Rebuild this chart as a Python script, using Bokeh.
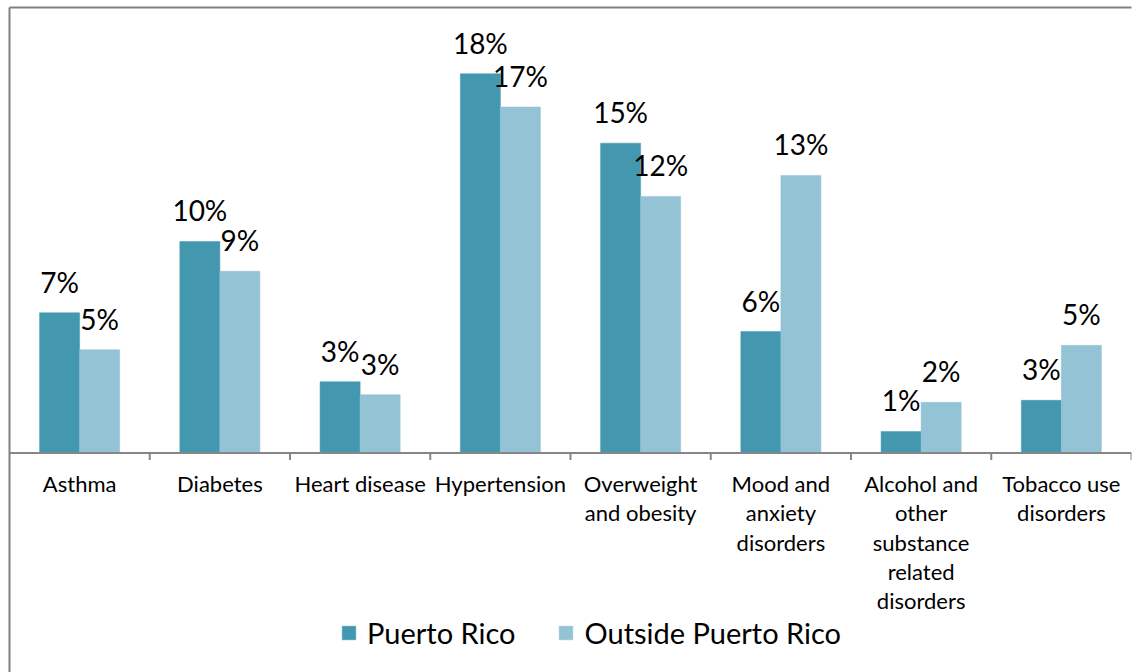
from bokeh.plotting import figure
from bokeh.models import (ColumnDataSource, FactorRange, Range1d, Span, Legend, LegendItem,
                          LinearAxis, FixedTicker, CategoricalAxis)
from bokeh.transform import dodge
from bokeh.core.properties import value
from bokeh.embed import file_html
from bokeh.resources import INLINE

categories = ["Asthma", "Diabetes", "Heart disease", "Hypertension",
              "Overweight and obesity", "Mood and anxiety disorders",
              "Alcohol and other substance related disorders", "Tobacco use disorders"]
category_labels = ["Asthma", "Diabetes", "Heart disease", "Hypertension",
                   "Overweight\nand obesity", "Mood and\nanxiety\ndisorders",
                   "Alcohol and\nother\nsubstance\nrelated\ndisorders", "Tobacco use\ndisorders"]
series_names = ["Puerto Rico", "Outside Puerto Rico"]
puerto_rico = [6.79, 10.24, 3.45, 18.36, 15.00, 5.88, 1.04, 2.55]
outside_pr = [5.00, 8.80, 2.82, 16.75, 12.42, 13.44, 2.45, 5.21]

C_PR = "#4398B0"
C_OUT = "#93C3D4"
GRAY = "#868686"
FONT = "Lato"

src = ColumnDataSource(dict(
    cat=categories,
    lab=category_labels,
    pr=puerto_rico,
    out=outside_pr,
    pr_txt=[f"{v:.0f}%" for v in puerto_rico],
    out_txt=[f"{v:.0f}%" for v in outside_pr],
    zero=[0] * len(categories),
))

p = figure(width=1146, height=672, output_backend="svg", toolbar_location=None,
           x_range=FactorRange(*categories, range_padding=0),
           y_range=Range1d(-10.63, 21.57),
           x_axis_location=None, y_axis_location=None,
           min_border_left=9, min_border_right=15, min_border_top=7, min_border_bottom=0)
p.outline_line_color = None
p.xgrid.visible = False
p.ygrid.visible = False
p.background_fill_color = "white"
p.border_fill_color = "white"

# border lines (left and top)
left_ax = LinearAxis(ticker=FixedTicker(ticks=[]), axis_line_color="#808080", axis_line_width=2,
                     major_tick_out=0, major_tick_in=0, minor_tick_out=0, minor_tick_in=0,
                     major_label_standoff=0)
top_ax = CategoricalAxis(axis_line_color="#808080", axis_line_width=2,
                         major_tick_out=0, major_tick_in=0, minor_tick_out=0, minor_tick_in=0,
                         major_label_standoff=0, major_label_text_font_size="0px",
                         major_label_text_alpha=0)
p.add_layout(left_ax, "left")
p.add_layout(top_ax, "above")

bw = 0.2855
r_pr = p.vbar(x=dodge("cat", -bw / 2, range=p.x_range), top="pr", width=bw, source=src,
              fill_color=C_PR, line_color=C_PR, line_width=0.5)
r_out = p.vbar(x=dodge("cat", bw / 2, range=p.x_range), top="out", width=bw, source=src,
               fill_color=C_OUT, line_color=C_OUT, line_width=0.5)

# baseline
p.add_layout(Span(location=0, dimension="width", line_color=GRAY, line_width=2))

# boundary ticks
p.segment(x0=dodge("c", -0.5, range=p.x_range), y0=0, x1=dodge("c", -0.5, range=p.x_range),
          y1=-0.34, source=ColumnDataSource(dict(c=categories[1:])), line_color=GRAY, line_width=2)
p.segment(x0=dodge("c", 0.5, range=p.x_range), y0=0, x1=dodge("c", 0.5, range=p.x_range),
          y1=-0.34, source=ColumnDataSource(dict(c=categories[-1:])), line_color=GRAY, line_width=2)

# data labels
p.text(x=dodge("cat", -bw / 2, range=p.x_range), y="pr", text="pr_txt", source=src,
       text_font=value(FONT), text_font_size="28px", text_align="center",
       text_baseline="alphabetic", y_offset=-31, text_color="#000000")
p.text(x=dodge("cat", bw / 2, range=p.x_range), y="out", text="out_txt", source=src,
       text_font=value(FONT), text_font_size="28px", text_align="center",
       text_baseline="alphabetic", y_offset=-31, text_color="#000000")

# category labels
p.text(x="cat", y="zero", text="lab", source=src, text_font=value(FONT), text_font_size="22px",
       text_align="center", text_baseline="top", y_offset=17, text_line_height=1.085,
       text_color="#000000")

legend = Legend(items=[LegendItem(label=series_names[0], renderers=[r_pr]),
                       LegendItem(label=series_names[1], renderers=[r_out])],
                orientation="horizontal", location=(331, 22),
                label_text_font=FONT, label_text_font_size="29px", label_text_color="#000000",
                glyph_width=17, glyph_height=17, label_standoff=10, spacing=42,
                padding=0, margin=0, border_line_color=None, background_fill_alpha=0)
p.add_layout(legend)

open("out.html", "w").write(file_html(p, INLINE))
